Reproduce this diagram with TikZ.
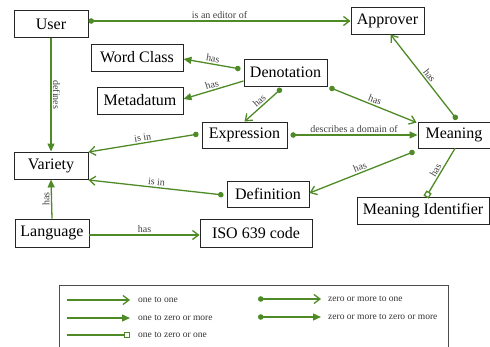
\documentclass[tikz,border=0pt]{standalone}
\usepackage{fontspec}
\setmainfont{Liberation Serif}
\usetikzlibrary{arrows.meta}
\definecolor{lg}{RGB}{78,138,38}
\tikzset{
  ent/.style={draw=black!85, line width=0.9pt, inner sep=0pt, minimum height=27pt, font=\fontsize{16}{18}\selectfont},
  rel/.style={draw=lg, line width=1.3pt},
  lbl/.style={font=\fontsize{10}{11}\selectfont, text=black!75, inner sep=1.5pt},
  one/.style={-{Straight Barb[length=6pt,width=9pt,line width=1.3pt]}},
  many/.style={-{Triangle[length=8pt,width=7pt]}},
  zone/.style={-{Square[open,length=6pt,width=6pt,line width=1.3pt]}},
  zmone/.style={{Circle[length=5.5pt]}-{Straight Barb[length=6pt,width=9pt,line width=1.3pt]}},
  zmmany/.style={{Circle[length=5.5pt]}-{Triangle[length=8pt,width=7pt]}},
  legtxt/.style={font=\fontsize{9.5}{11}\selectfont, text=black!80, anchor=west, inner sep=0pt},
}
\begin{document}
\begin{tikzpicture}[x=1pt,y=-1pt]
\useasboundingbox (0,0) rectangle (490,347);
% entities
\node[ent, minimum width=74pt] (user) at (51,24) {User};
\node[ent, minimum width=73pt] (appr) at (387.5,20.5) {Approver};
\node[ent, minimum width=92pt] (wc) at (137,57.5) {Word Class};
\node[ent, minimum width=86pt] (meta) at (140,100.5) {Metadatum};
\node[ent, minimum width=83pt] (den) at (285.5,72.5) {Denotation};
\node[ent, minimum width=85pt, minimum height=26pt] (expr) at (244.5,135) {Expression};
\node[ent, minimum width=72pt, minimum height=26pt] (mean) at (454,135) {Meaning};
\node[ent, minimum width=74pt] (var) at (51,165.5) {Variety};
\node[ent, minimum width=82pt, minimum height=26pt] (def) at (268,194) {Definition};
\node[ent, minimum width=132pt] (mid) at (423,211) {Meaning Identifier};
\node[ent, minimum width=74pt, minimum height=28pt] (lang) at (52,233) {Language};
\node[ent, minimum width=112pt, minimum height=28pt] (iso) at (256,233) {ISO 639 code};
% relations (yshift is in canvas units: positive = up)
\draw[rel, zmone] ([yshift=3pt]user.east) -- node[lbl, above, pos=0.5] (l1) {is an editor of} ([yshift=3pt]appr.west |- user.east);
\draw[rel, many] (user.south) -- node[lbl, right, rotate=-90, anchor=south, pos=0.5] (l2) {defines} (var.north);
\draw[rel, zmmany] ([xshift=-3pt,yshift=3.5pt]den.west) -- node[lbl, above, sloped] (l3) {has} ([yshift=-1.5pt]wc.east);
\draw[rel, many] ([yshift=-8.5pt]den.west) -- node[lbl, above, sloped] (l4) {has} ([yshift=1.5pt]meta.east);
\draw[rel, zmone] ([xshift=-4pt,yshift=-2pt]den.south) -- node[lbl, above, sloped] (l5) {has} ([xshift=0pt]expr.north);
\draw[rel, zmone] ([xshift=2pt,yshift=-1pt]den.south east) -- node[lbl, above, sloped] (l6) {has} ([xshift=-1pt,yshift=-1pt]mean.north west);
\draw[rel, zmone] ([xshift=3pt,yshift=2pt]mean.north) -- node[lbl, above, sloped, pos=0.48] (l7) {has} ([xshift=3pt]appr.south);
\draw[rel, zmmany] ([xshift=3pt]expr.east) -- node[lbl, above, pos=0.5] (l8) {describes a domain of} (mean.west);
\draw[rel, zmone] ([xshift=-3pt,yshift=1pt]expr.west) -- node[lbl, above, sloped] (l9) {is in} ([yshift=13.5pt]var.east);
\draw[rel, zmone] ([xshift=-3pt,yshift=-1pt]def.west) -- node[lbl, above, sloped] (l10) {is in} ([yshift=-14.5pt]var.east);
\draw[rel, zmone] ([xshift=-3pt,yshift=-3pt]mean.south west) -- node[lbl, above, sloped] (l11) {has} ([yshift=1pt]def.east);
\draw[rel, zone] ([xshift=1pt]mean.south) -- node[lbl, above, sloped] (l12) {has} ([xshift=3pt]mid.north);
\draw[rel, many] (lang.north) -- node[lbl, left, rotate=90, anchor=south, pos=0.5] (l13) {has} (var.south);
\draw[rel, one] ([yshift=-2pt]lang.east) -- node[lbl, above] (l14) {has} ([yshift=-2pt]iso.west);
% legend
\node[draw=black!70, line width=1pt, minimum width=389pt, minimum height=80pt, inner sep=0pt, anchor=north west] (leg) at (59,285) {};
\coordinate (a1) at (67,300); \coordinate (b1) at (130,300);
\coordinate (a2) at (67,318); \coordinate (b2) at (130,318);
\coordinate (a3) at (67,335); \coordinate (b3) at (130,335);
\coordinate (a4) at (258,299); \coordinate (b4) at (321,299);
\coordinate (a5) at (258,317); \coordinate (b5) at (321,317);
\draw[rel, one] (a1) -- (b1);
\draw[rel, many] (a2) -- (b2);
\draw[rel, zone] (a3) -- (b3);
\draw[rel, zmone] (a4) -- (b4);
\draw[rel, zmmany] (a5) -- (b5);
\node[legtxt] (t1) at (138,300) {one to one};
\node[legtxt] (t2) at (138,318) {one to zero or more};
\node[legtxt] (t3) at (138,335) {one to zero or one};
\node[legtxt] (t4) at (328,299) {zero or more to one};
\node[legtxt] (t5) at (328,317) {zero or more to zero or more};
\end{tikzpicture}
\end{document}
